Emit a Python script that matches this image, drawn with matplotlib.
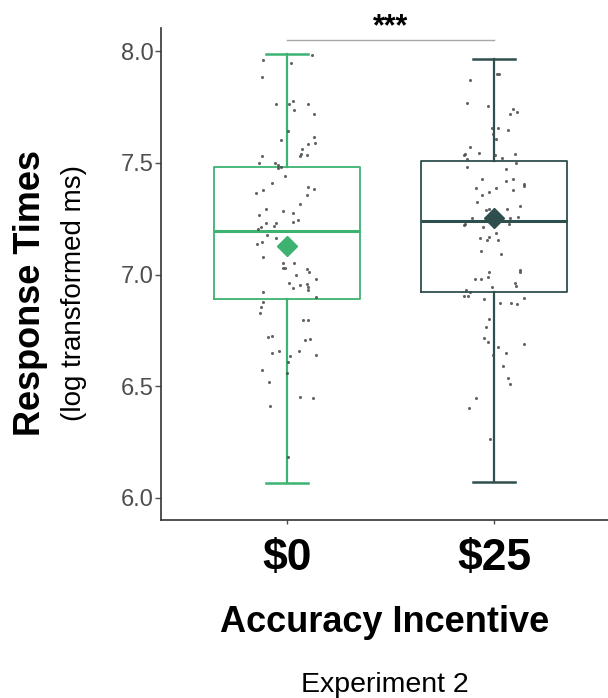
import numpy as np
import matplotlib
matplotlib.use("Agg")
import matplotlib.pyplot as plt

plt.rcParams['font.family'] = ['Liberation Sans', 'DejaVu Sans']
plt.rcParams['text.parse_math'] = False

groups = ['$0', '$25']
colors = ['#3CB371', '#2F4F4F']

# box summaries (log transformed ms)
q1 = [6.890, 6.921]
medians = [7.195, 7.240]
q3 = [7.482, 7.509]
whisker_low = [6.065, 6.069]
whisker_high = [7.989, 7.966]
means = [7.128, 7.253]

# participants, $0 condition: horizontal jitter and RT
jit_0 = [0.121, -0.116, 0.019, -0.121, -0.053, 0.010, 0.029, 0.034, 0.101, 0.130,
         0.005, -0.029, 0.130, 0.135, 0.101, 0.072, 0.068, 0.063, 0.097, -0.121,
         -0.135, -0.058, -0.043, -0.043, -0.029, -0.010, -0.072, -0.150, -0.116, 0.101,
         0.130, 0.097, 0.063, -0.101, -0.019, 0.029, -0.135, 0.053, 0.029, -0.101,
         -0.053, -0.063, -0.126, -0.140, -0.097, -0.053, -0.121, -0.145, -0.116, -0.019,
         0.034, -0.019, -0.010, 0.097, 0.106, 0.043, 0.140, 0.010, 0.063, 0.029,
         0.097, 0.101, 0.101, -0.116, 0.140, -0.116, -0.126, -0.130, 0.077, 0.101,
         -0.092, -0.072, 0.087, 0.111, -0.072, -0.039, 0.014, 0.058, 0.140, 0.005,
         0.000, -0.121, -0.087, 0.063, 0.126, -0.082, 0.005]
rt_0 = [7.982, 7.960, 7.947, 7.884, 7.764, 7.764, 7.778, 7.738, 7.764, 7.720,
        7.644, 7.604, 7.618, 7.591, 7.587, 7.564, 7.542, 7.533, 7.538, 7.533,
        7.498, 7.498, 7.493, 7.476, 7.480, 7.440, 7.409, 7.364, 7.378, 7.391,
        7.382, 7.356, 7.316, 7.293, 7.284, 7.276, 7.267, 7.244, 7.236, 7.231,
        7.231, 7.218, 7.213, 7.204, 7.178, 7.164, 7.147, 7.138, 7.080, 7.053,
        7.053, 7.031, 7.031, 7.027, 7.013, 6.996, 6.982, 6.960, 6.951, 6.938,
        6.956, 6.942, 6.929, 6.920, 6.898, 6.876, 6.853, 6.827, 6.796, 6.796,
        6.720, 6.724, 6.707, 6.711, 6.649, 6.658, 6.636, 6.658, 6.640, 6.609,
        6.560, 6.573, 6.520, 6.453, 6.449, 6.409, 6.182]

# participants, $25 condition
jit_25 = [0.024, 0.014, -0.116, -0.130, -0.029, 0.092, 0.077, 0.111, -0.010, 0.019,
          0.068, -0.005, 0.010, -0.116, -0.140, -0.145, -0.072, -0.130, 0.005, 0.101,
          0.039, -0.130, 0.106, 0.058, -0.058, 0.092, 0.058, 0.145, 0.145, -0.087,
          0.010, 0.092, -0.024, -0.058, -0.082, 0.126, -0.039, -0.024, 0.063, -0.106,
          -0.140, -0.145, 0.077, 0.116, 0.072, -0.053, 0.010, -0.068, -0.024, -0.034,
          0.019, -0.063, 0.034, 0.126, 0.126, -0.024, -0.092, -0.063, -0.029, 0.101,
          0.106, -0.010, -0.135, -0.116, -0.145, -0.126, -0.048, 0.145, 0.029, 0.082,
          0.111, -0.024, -0.039, -0.048, -0.029, 0.019, 0.145, -0.005, 0.058, 0.043,
          0.068, 0.077, -0.087, -0.121, -0.019]
rt_25 = [7.898, 7.898, 7.871, 7.769, 7.756, 7.742, 7.720, 7.729, 7.658, 7.658,
         7.649, 7.631, 7.609, 7.573, 7.542, 7.538, 7.547, 7.520, 7.538, 7.542,
         7.524, 7.484, 7.498, 7.471, 7.427, 7.427, 7.418, 7.404, 7.396, 7.387,
         7.387, 7.378, 7.369, 7.356, 7.324, 7.307, 7.289, 7.293, 7.293, 7.253,
         7.227, 7.222, 7.253, 7.258, 7.227, 7.213, 7.187, 7.164, 7.169, 7.156,
         7.156, 7.107, 7.093, 7.022, 7.013, 7.013, 6.982, 6.978, 6.987, 6.960,
         6.947, 6.942, 6.929, 6.920, 6.902, 6.902, 6.889, 6.893, 6.871, 6.871,
         6.867, 6.800, 6.764, 6.716, 6.698, 6.676, 6.689, 6.640, 6.649, 6.591,
         6.538, 6.511, 6.449, 6.404, 6.262]

sig_label = '***'

fig = plt.figure(figsize=(6.08, 6.98), dpi=100)
ax = fig.add_axes([0.2648, 0.255, 0.7352, 0.7049])

positions = [1, 2]
jitters = [jit_0, jit_25]
rts = [rt_0, rt_25]

for i, pos in enumerate(positions):
    st = dict(med=medians[i], q1=q1[i], q3=q3[i],
              whislo=whisker_low[i], whishi=whisker_high[i], fliers=[])
    c = colors[i]
    ax.bxp([st], positions=[pos], widths=0.705, capwidths=0.2,
           showfliers=False,
           boxprops=dict(color=c, lw=1.3),
           whiskerprops=dict(color=c, lw=1.6),
           capprops=dict(color=c, lw=1.8),
           medianprops=dict(color=c, lw=2.2))
    ax.scatter(pos + np.array(jitters[i]), rts[i], s=5, color='#4a4a4a',
               alpha=0.85, linewidths=0, zorder=3)
    ax.plot(pos, means[i], marker='D', ms=10.5, color=c, zorder=4)

# significance bracket
ax.plot([1, 2], [8.053, 8.053], color='#a8a8a8', lw=1, clip_on=False)
ax.text(1.5, 8.11, sig_label, ha='center', va='center', fontsize=22,
        fontweight='bold', clip_on=False)

ax.set_xlim(0.391, 2.551)
ax.set_ylim(5.9, 8.105)
ax.set_xticks(positions)
ax.set_xticklabels(groups, fontsize=32, fontweight='bold')
ax.set_yticks([6.0, 6.5, 7.0, 7.5, 8.0])
ax.set_yticklabels(['6.0', '6.5', '7.0', '7.5', '8.0'])

for s in ['top', 'right']:
    ax.spines[s].set_visible(False)
for s in ['left', 'bottom']:
    ax.spines[s].set_color('#333333')
    ax.spines[s].set_linewidth(1.2)

ax.tick_params(axis='y', labelsize=17, labelcolor='#4d4d4d', color='#4d4d4d',
               length=4, width=1, pad=1)
ax.tick_params(axis='x', labelcolor='black', color='#4d4d4d',
               length=3, width=1, pad=10)

fig.text(31 / 608, 0.58, 'Response Times', rotation=90, fontsize=26,
         fontweight='bold', ha='center', va='center')
fig.text(74 / 608, 0.58, '(log transformed ms)', rotation=90, fontsize=20,
         ha='center', va='center')
fig.text(385 / 608, 1 - 632 / 698, 'Accuracy Incentive', ha='center',
         va='baseline', fontsize=26, fontweight='bold')
fig.text(385 / 608, 1 - 692 / 698, 'Experiment 2', ha='center',
         va='baseline', fontsize=20.5)

fig.savefig('out.png', dpi=100)
